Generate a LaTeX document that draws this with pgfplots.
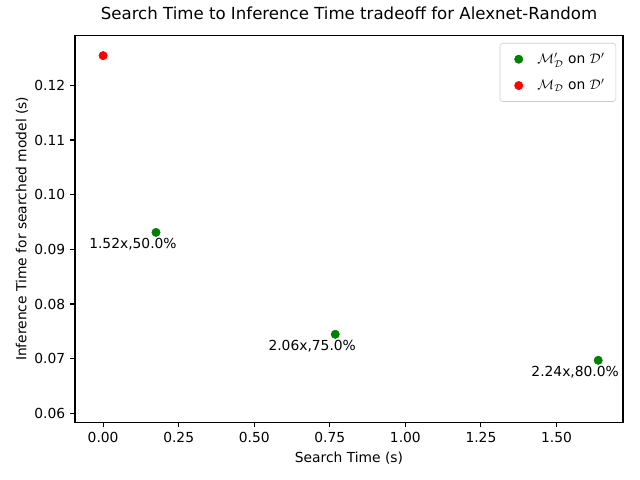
\documentclass[border=0pt]{standalone}
\usepackage{fontspec}
\setmainfont{DejaVu Sans}
\usepackage{pgfplots}
\pgfplotsset{compat=1.18}
\definecolor{mplgreen}{RGB}{0,128,0}
\definecolor{mplred}{RGB}{255,0,0}
\begin{document}
\begin{tikzpicture}
\useasboundingbox (-54bp,-41.5bp) rectangle (406.8bp,304.1bp);
\begin{axis}[
  at={(0,0)}, anchor=south west,
  scale only axis,
  width=394.56bp, height=278.64bp,
  xmin=-0.093, xmax=1.72,
  ymin=0.05835, ymax=0.12914,
  xtick={0,0.25,0.5,0.75,1,1.25,1.5},
  ytick={0.06,0.07,0.08,0.09,0.10,0.11,0.12},
  xticklabel style={/pgf/number format/.cd,fixed,fixed zerofill,precision=2},
  yticklabel style={/pgf/number format/.cd,fixed,fixed zerofill,precision=2},
  /pgf/number format/assume math mode=true,
  scaled y ticks=false, scaled x ticks=false,
  tick align=outside, major tick length=3.5bp,
  tick style={black, line width=0.8bp},
  axis line style={line width=0.8bp},
  xtick pos=bottom, ytick pos=left,
  tick label style={font=\fontsize{10}{12}\selectfont},
  title={Search Time to Inference Time tradeoff for Alexnet-Random},
  title style={font=\fontsize{12}{14}\selectfont, at={(axis description cs:0.5,1.0362)}, anchor=center},
  xlabel={Search Time (s)},
  ylabel={Inference Time for searched model (s)},
  every axis x label/.style={at={(axis description cs:0.5,-0.0922)}, anchor=center, font=\fontsize{10}{12}\selectfont},
  every axis y label/.style={at={(axis description cs:-0.0967,0.5)}, anchor=center, rotate=90, font=\fontsize{10}{12}\selectfont},
  legend style={at={(axis description cs:1,1)}, anchor=north east, xshift=-5bp, yshift=-5.5bp,
    draw=black!20, rounded corners=2bp, fill=white,
    font=\fontsize{10}{12}\selectfont, inner xsep=4bp, inner ysep=5bp,
    row sep=6bp, nodes={inner xsep=4bp}},
  legend cell align=left,
  legend image code/.code={%
    \path[draw=none] (0bp,0bp) -- (19bp,0bp);
    \draw[#1] plot coordinates {(9.5bp,0bp)};},
]
\addplot[only marks, mark=*, mark size=3bp, color=mplgreen] coordinates {
  (0.175,0.0931) (0.768,0.07446) (1.638,0.0697)
};
\addlegendentry{$\mathcal{M}'_{\mathcal{D}}$ on $\mathcal{D}'$}
\addplot[only marks, mark=*, mark size=3bp, color=mplred] coordinates {
  (0,0.12543)
};
\addlegendentry{$\mathcal{M}_{\mathcal{D}}$ on $\mathcal{D}'$}
\node[font=\fontsize{10}{12}\selectfont, xshift=-16.6bp, yshift=-8.6bp] at (axis cs:0.175,0.0931) {1.52x,50.0\%};
\node[font=\fontsize{10}{12}\selectfont, xshift=-16.6bp, yshift=-8.6bp] at (axis cs:0.768,0.07446) {2.06x,75.0\%};
\node[font=\fontsize{10}{12}\selectfont, xshift=-16.6bp, yshift=-8.6bp] at (axis cs:1.638,0.0697) {2.24x,80.0\%};
\end{axis}
\end{tikzpicture}
\end{document}
